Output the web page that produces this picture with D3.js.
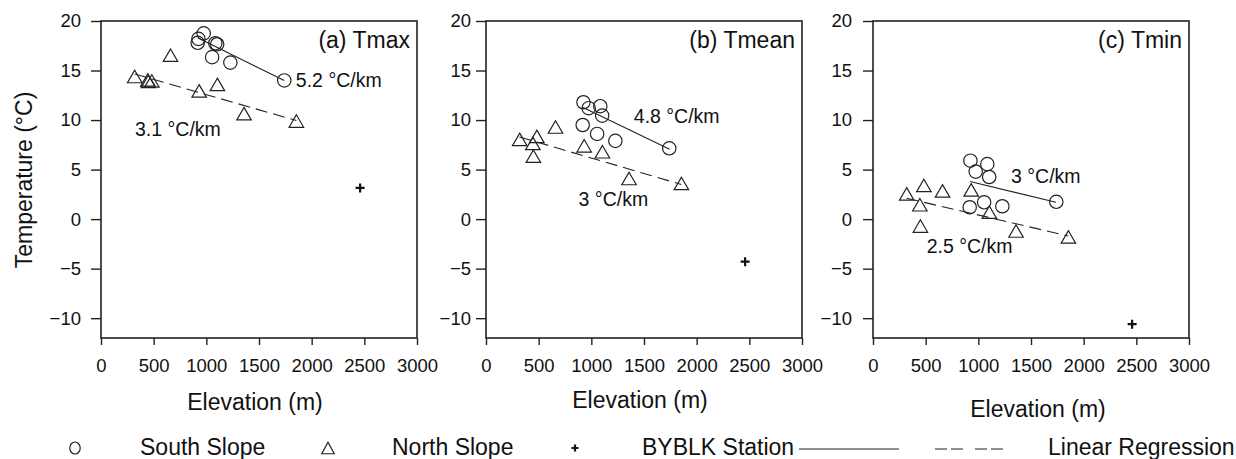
<!DOCTYPE html>
<html>
<head>
<meta charset="utf-8">
<script src="https://cdn.jsdelivr.net/npm/d3@7"></script>
<style>
  body { margin: 0; background: #fff; }
  text { font-family: Arial, "Liberation Sans", sans-serif; fill: #111; }
</style>
</head>
<body>
<svg id="chart" width="1236" height="459"></svg>
<script>
// ---- data ----
var southElev = [925, 975, 1085, 1103, 918, 1055, 1228, 1740];
var southTmax = [18.2, 18.75, 17.75, 17.65, 17.8, 16.35, 15.8, 14.0];
var southTmean = [11.8, 11.2, 11.4, 10.45, 9.5, 8.6, 7.9, 7.15];
var southTmin = [5.9, 4.8, 5.55, 4.25, 1.2, 1.7, 1.3, 1.75];

var northElev = [320, 445, 450, 483, 660, 932, 1105, 1358, 1855];
var northTmax = [14.4, 14.05, 13.9, 13.95, 16.55, 12.95, 13.6, 10.65, 9.9];
var northTmean = [8.05, 7.65, 6.35, 8.35, 9.3, 7.4, 6.8, 4.1, 3.6];
var northTmin = [2.55, 1.45, -0.7, 3.4, 2.85, 2.95, 0.7, -1.2, -1.8];

var stationElev = 2460;
var stationT = [3.15, -4.3, -10.6];

// regression lines: [elev0, t0, elev1, t1]
var fitSouth = [[918, 18.3, 1740, 14.0], [917, 11.3, 1743, 7.05], [921, 3.8, 1737, 1.7]];
var fitNorth = [[320, 14.65, 1855, 9.95], [317, 8.3, 1854, 3.5], [320, 2.1, 1854, -1.7]];

var panelTitles = ["(a) Tmax", "(b) Tmean", "(c) Tmin"];
var southRate = ["5.2 °C/km", "4.8 °C/km", "3 °C/km"];
var northRate = ["3.1 °C/km", "3 °C/km", "2.5 °C/km"];

var xTicks = [0, 500, 1000, 1500, 2000, 2500, 3000];
var yTicks = [-10, -5, 0, 5, 10, 15, 20];
var legendLabels = ["South Slope", "North Slope", "BYBLK Station", "Linear Regression"];

// ---- layout ----
var panelLeft = [101, 486, 873]
  , panelWidth = 316
  , plotTop = 21
  , plotBottom = 338;
var yPad = [10, 5, 11];
var titleDx = [-4, -4, 7], titleY = [410, 408, 417];
// where the rate labels sit, in data units
var southRatePos = [[1850, 13.37], [1403, 9.67], [1310, 3.68]];
var northRatePos = [[323, 8.42], [879, 1.32], [510, -3.45]];

var ink = "#222";

var svg = d3.select("#chart");

var x = d3.scaleLinear().domain([0, 3000]).range([0, panelWidth]);
var y = d3.scaleLinear().domain([-12, 20]).range([plotBottom, plotTop]);

function tri(w, h) {
  return "M0," + (-h / 2) + "L" + (w / 2) + "," + (h / 2) + "L" + (-w / 2) + "," + (h / 2) + "Z";
}
function plus(s) {
  return "M" + (-s) + ",0H" + s + "M0," + (-s) + "V" + s;
}

var southSets = [southTmax, southTmean, southTmin];
var northSets = [northTmax, northTmean, northTmin];

panelTitles.forEach(function(title, i) {
  var g = svg.append("g").attr("transform", "translate(" + panelLeft[i] + ",0)");

  // axes
  var gy = g.append("g")
    .call(d3.axisLeft(y).tickValues(yTicks).tickSize(10).tickSizeOuter(0).tickPadding(yPad[i]));
  var gx = g.append("g")
    .attr("transform", "translate(0," + plotBottom + ")")
    .call(d3.axisBottom(x).tickValues(xTicks).tickSize(7).tickSizeOuter(0).tickPadding(14).tickFormat(d3.format("d")));
  [gy, gx].forEach(function(a) {
    a.select(".domain").remove();
    a.attr("font-size", 18.5).attr("font-family", null).attr("color", ink);
    a.selectAll("line").attr("stroke-width", 1.4);
  });

  // frame
  g.append("rect")
    .attr("x", 0).attr("y", plotTop)
    .attr("width", panelWidth).attr("height", plotBottom - plotTop)
    .attr("fill", "none").attr("stroke", ink).attr("stroke-width", 1.6);

  // regression lines
  var fs = fitSouth[i], fn = fitNorth[i];
  g.append("line")
    .attr("x1", x(fs[0])).attr("y1", y(fs[1])).attr("x2", x(fs[2])).attr("y2", y(fs[3]))
    .attr("stroke", "#222").attr("stroke-width", 1.1);
  g.append("line")
    .attr("x1", x(fn[0])).attr("y1", y(fn[1])).attr("x2", x(fn[2])).attr("y2", y(fn[3]))
    .attr("stroke", "#222").attr("stroke-width", 1.1).attr("stroke-dasharray", "12,6");

  // points
  g.selectAll(".south")
    .data(southSets[i])
   .enter().append("circle")
    .attr("cx", (d, j) => x(southElev[j]))
    .attr("cy", d => y(d))
    .attr("r", 6.7)
    .attr("fill", "none").attr("stroke", "#222").attr("stroke-width", 1.2);
  g.selectAll(".north")
    .data(northSets[i])
   .enter().append("path")
    .attr("transform", (d, j) => "translate(" + x(northElev[j]) + "," + y(d) + ")")
    .attr("d", tri(14.5, 12.5))
    .attr("fill", "none").attr("stroke", "#222").attr("stroke-width", 1.2);
  g.append("path")
    .attr("transform", "translate(" + x(stationElev) + "," + y(stationT[i]) + ")")
    .attr("d", plus(4.5))
    .attr("stroke", "#111").attr("stroke-width", 2.2);

  // texts
  g.append("text")
    .attr("x", panelWidth - 7).attr("y", plotTop + 27)
    .attr("text-anchor", "end").attr("font-size", 23)
    .text(title);
  g.append("text")
    .attr("x", x(southRatePos[i][0])).attr("y", y(southRatePos[i][1]))
    .attr("font-size", 19.5).text(southRate[i]);
  g.append("text")
    .attr("x", x(northRatePos[i][0])).attr("y", y(northRatePos[i][1]))
    .attr("font-size", 19.5).text(northRate[i]);
  g.append("text")
    .attr("x", panelWidth / 2 + titleDx[i]).attr("y", titleY[i])
    .attr("text-anchor", "middle").attr("font-size", 23)
    .text("Elevation (m)");
});

svg.append("text")
  .attr("transform", "translate(32,180) rotate(-90)")
  .attr("text-anchor", "middle").attr("font-size", 23)
  .text("Temperature (°C)");

// legend
var legY = 448;
var leg = svg.append("g");
leg.append("ellipse").attr("cx", 75).attr("cy", legY).attr("rx", 5.2).attr("ry", 6)
  .attr("fill", "none").attr("stroke", "#222").attr("stroke-width", 1.2);
leg.append("path").attr("transform", "translate(328," + legY + ")").attr("d", tri(12.5, 11.5))
  .attr("fill", "none").attr("stroke", "#222").attr("stroke-width", 1.2);
leg.append("path").attr("transform", "translate(575," + legY + ")").attr("d", plus(3.5))
  .attr("stroke", "#111").attr("stroke-width", 2.2);
leg.append("line").attr("x1", 799).attr("x2", 899).attr("y1", legY + 1).attr("y2", legY + 1)
  .attr("stroke", "#222").attr("stroke-width", 1.1);
leg.append("line").attr("x1", 935).attr("x2", 1009).attr("y1", legY + 1).attr("y2", legY + 1)
  .attr("stroke", "#222").attr("stroke-width", 1.1).attr("stroke-dasharray", "12,4,12,12");

var legX = [140, 392, 642, 1048];
leg.selectAll(".legText")
  .data(legendLabels)
 .enter().append("text")
  .attr("x", (d, i) => legX[i])
  .attr("y", 455)
  .attr("font-size", 23)
  .text(d => d);
</script>
</body>
</html>
